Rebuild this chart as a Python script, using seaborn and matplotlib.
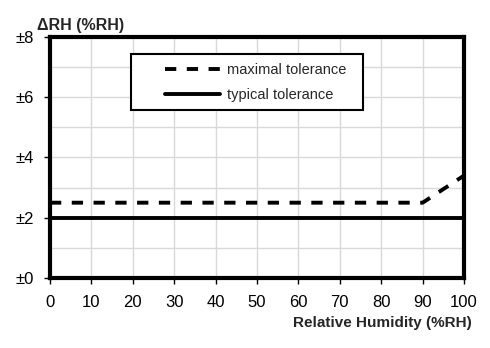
import matplotlib
matplotlib.use("Agg")
import matplotlib.pyplot as plt
from matplotlib.lines import Line2D
from matplotlib.legend_handler import HandlerLine2D
import seaborn as sns
import pandas as pd

# Tolerance of relative humidity readings
rh_max = [0, 90, 100]
tol_max = [2.5, 2.5, 3.4]
rh_typ = [0, 100]
tol_typ = [2.0, 2.0]

x_ticks = [0, 10, 20, 30, 40, 50, 60, 70, 80, 90, 100]
y_ticks = [0, 2, 4, 6, 8]
y_tick_labels = ["±0", "±2", "±4", "±6", "±8"]

sns.set_theme(style="white")
plt.rcParams["font.family"] = ["Liberation Sans", "DejaVu Sans"]

fig = plt.figure(figsize=(4.9, 3.48), dpi=100)
ax = fig.add_axes([0.102, 0.201, 0.845, 0.693])

df_max = pd.DataFrame({"rh": rh_max, "tol": tol_max})
df_typ = pd.DataFrame({"rh": rh_typ, "tol": tol_typ})

sns.lineplot(data=df_max, x="rh", y="tol", ax=ax, color="black", lw=2.8,
             linestyle=(0, (2.9, 2.7)), label="maximal tolerance  ")
sns.lineplot(data=df_typ, x="rh", y="tol", ax=ax, color="black", lw=2.8,
             label="typical tolerance")

ax.set_xlim(0, 100)
ax.set_ylim(0, 8)
ax.set_xticks(x_ticks)
ax.set_xticklabels([str(v) for v in x_ticks], fontsize=12)
ax.set_yticks(y_ticks)
ax.set_yticklabels(y_tick_labels, fontsize=12)
ax.set_yticks(range(0, 9), minor=True)
ax.grid(True, which="both", color="#d9d9d9", lw=1)
ax.set_axisbelow(True)
ax.tick_params(axis="x", which="major", direction="out", length=4.5, width=1,
               color="black", pad=8, bottom=True, labelcolor="black")
ax.tick_params(axis="y", which="major", direction="out", length=4.5, width=1,
               color="black", pad=7, left=True, labelcolor="black")
ax.tick_params(axis="y", which="minor", length=0)

for s in ax.spines.values():
    s.set_color("black")
    s.set_linewidth(3.0)

ax.set_xlabel("")
ax.set_ylabel("")
fig.text(0.076, 0.906, "ΔRH (%RH)", fontsize=11.5, fontweight="bold", ha="left", va="bottom")
fig.text(0.962, 0.052, "Relative Humidity (%RH)", fontsize=11, fontweight="bold",
         ha="right", va="bottom")

leg = ax.legend(loc="upper left", bbox_to_anchor=(0.196, 0.929), fontsize=10.5,
                frameon=True, fancybox=False, edgecolor="black", handlelength=5.5,
                handletextpad=0.45, borderpad=0.6, labelspacing=0.75, borderaxespad=0,
                handler_map={Line2D: HandlerLine2D(xpad=1.75)})
leg.get_frame().set_linewidth(1.5)
leg.get_frame().set_facecolor("white")
leg.get_frame().set_alpha(1)

fig.savefig("out.png", dpi=100, facecolor="white")
